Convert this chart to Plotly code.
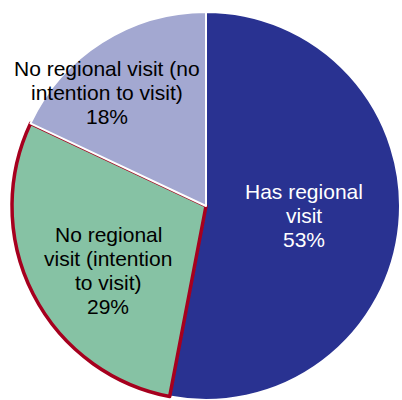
import plotly.graph_objects as go

# Share of respondents by regional-visit status
labels = ["Has regional visit",
          "No regional visit (intention to visit)",
          "No regional visit (no intention to visit)"]
label_lines = [["Has regional", "visit"],
               ["No regional", "visit (intention", "to visit)"],
               ["No regional visit (no", "intention to visit)"]]
values = [53, 29, 18]
colors = ["#293291", "#86C2A4", "#A3A8D1"]
line_colors = ["#FFFFFF", "#A6001E", "#FFFFFF"]
line_widths = [2, 3.5, 2]
text_colors = ["#FFFFFF", "#000000", "#000000"]

W, H = 402, 400
# label block centres in pixels (x from left, y from top)
label_px = [(303.5, 215), (108, 270), (106.5, 92)]
LINE_STEP = 24  # px between text lines
FONT = dict(family="Liberation Sans, Arial, sans-serif", size=21)

fig = go.Figure(go.Pie(
    labels=labels,
    values=values,
    sort=False,
    direction="clockwise",
    rotation=0,
    marker=dict(colors=colors, line=dict(color=line_colors, width=line_widths)),
    textinfo="none",
    hoverinfo="label+percent",
    showlegend=False,
    domain=dict(x=[12 / W, 400 / W], y=[0, 388 / H]),
))

for lines, v, c, (px, py) in zip(label_lines, values, text_colors, label_px):
    rows = lines + [f"{v}%"]
    n = len(rows)
    for i, row in enumerate(rows):
        fig.add_annotation(
            x=px / W, y=1 - py / H, xref="paper", yref="paper",
            yshift=-(i - (n - 1) / 2) * LINE_STEP,
            text=row,
            showarrow=False, xanchor="center", yanchor="middle",
            align="center",
            font=dict(FONT, color=c),
        )

fig.update_layout(
    width=W, height=H,
    margin=dict(l=0, r=0, t=0, b=0),
    paper_bgcolor="white",
    plot_bgcolor="white",
)

fig.write_html("out.html")
